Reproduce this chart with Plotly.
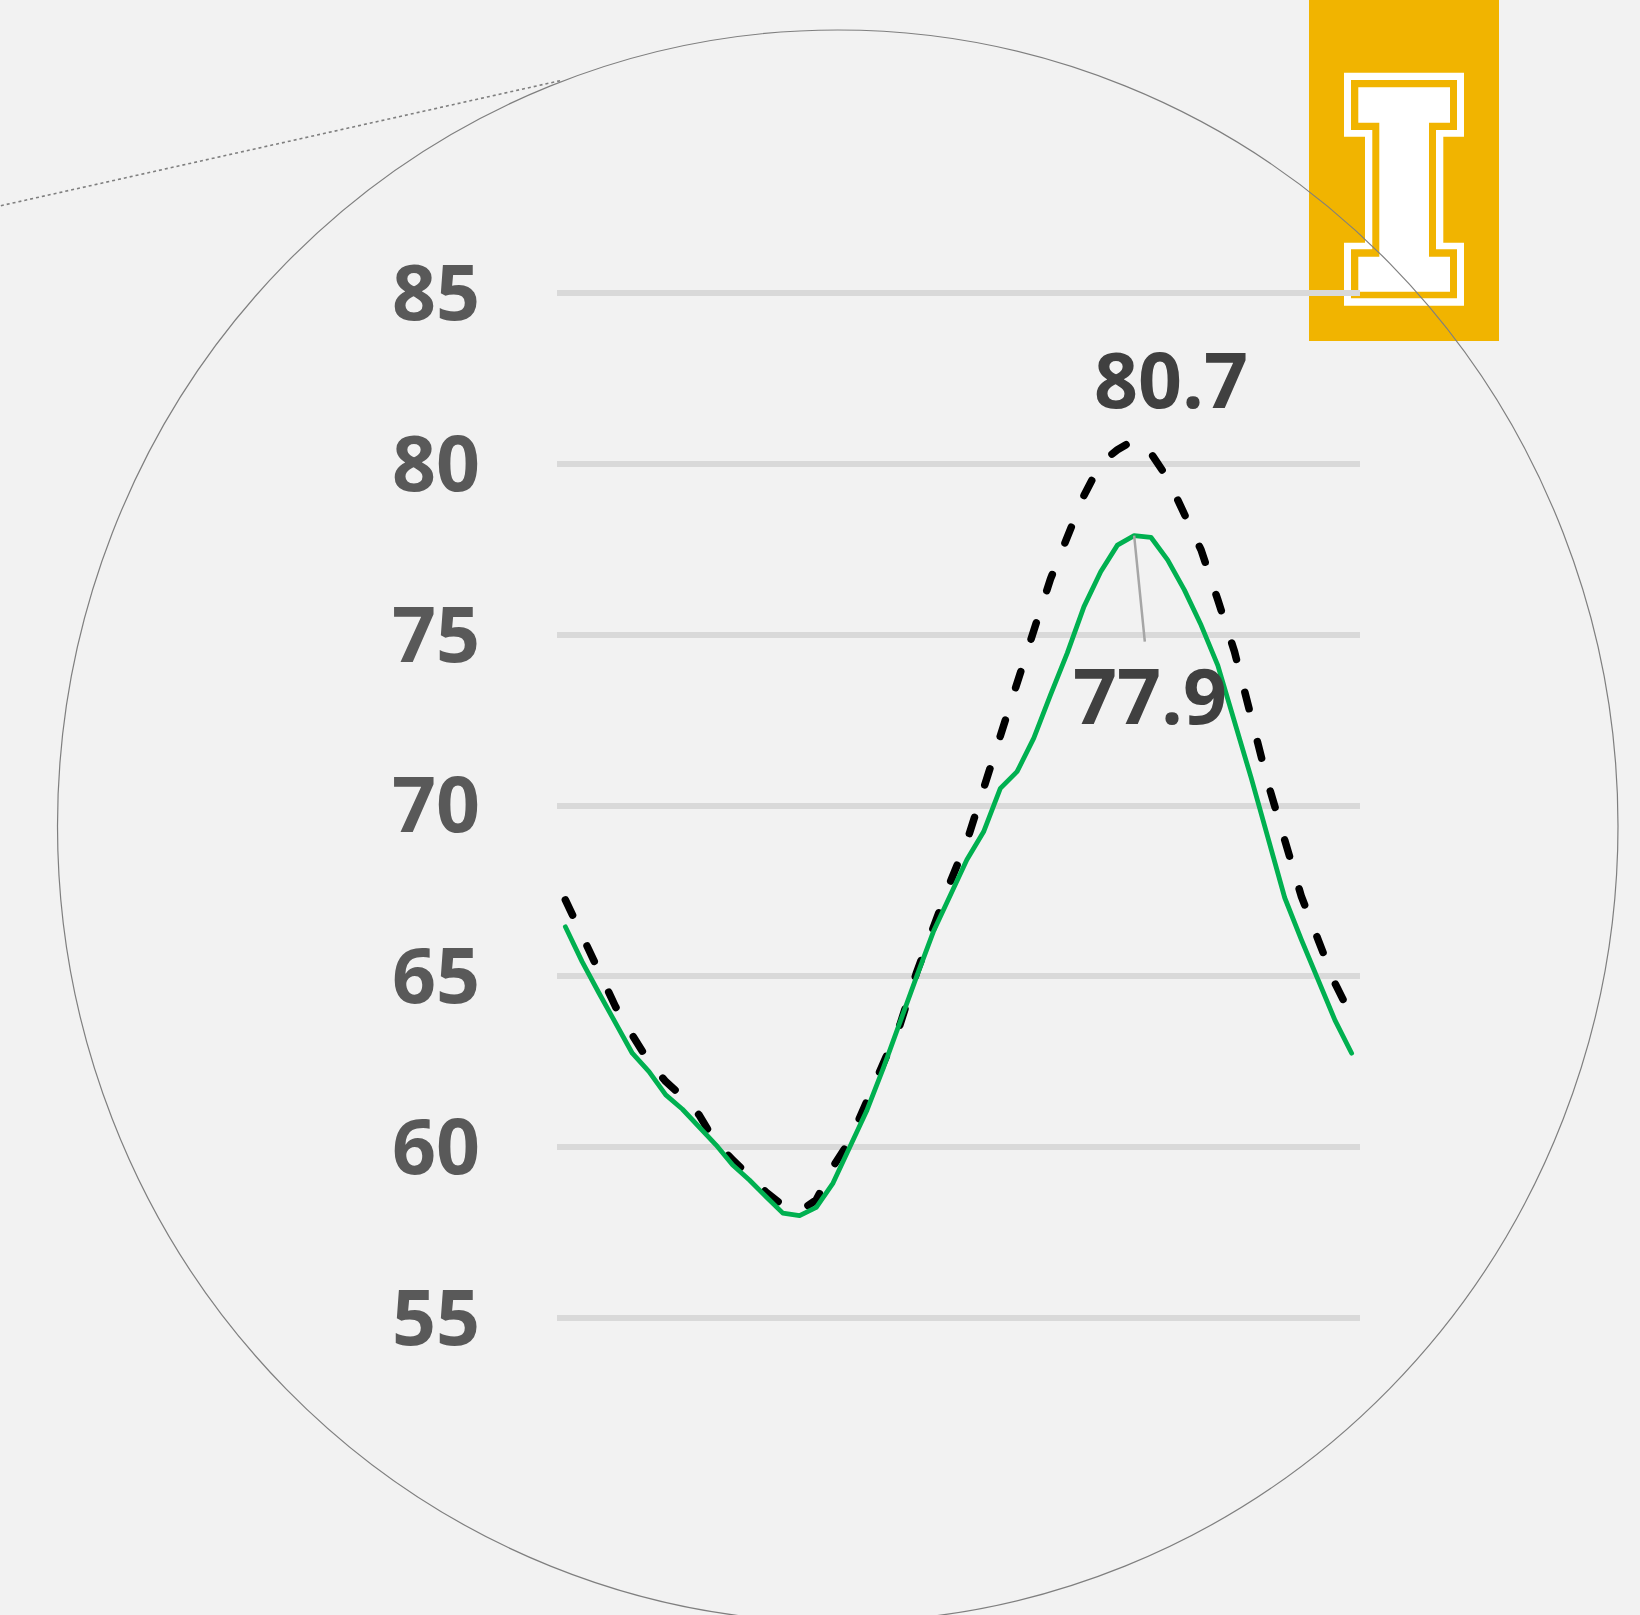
import plotly.graph_objects as go

W, H = 1640, 1615

# ---------------- data ----------------
periods = list(range(48))
series_green = [66.45, 65.43, 64.52, 63.63, 62.75, 62.21, 61.53, 61.11, 60.60, 60.07,
                59.48, 59.04, 58.55, 58.07, 58.00, 58.24, 58.95, 60.00, 61.05, 62.31,
                63.61, 65.00, 66.31, 67.33, 68.41, 69.23, 70.50, 70.99, 71.97, 73.24,
                74.46, 75.82, 76.84, 77.62, 77.90, 77.85, 77.19, 76.31, 75.28, 74.10,
                72.50, 70.80, 69.05, 67.30, 66.07, 64.86, 63.72, 62.75]
series_dashed = [67.24, 66.21, 65.11, 64.11, 63.28, 62.50, 61.92, 61.48, 60.94, 60.12,
                 59.63, 59.16, 58.68, 58.30, 58.12, 58.46, 59.43, 60.19, 61.36, 62.39,
                 63.58, 65.12, 66.45, 67.75, 68.95, 70.45, 72.06, 73.53, 75.12, 76.63,
                 77.92, 79.07, 80.02, 80.41, 80.70, 80.31, 79.58, 78.55, 77.48, 76.02,
                 74.50, 72.58, 70.65, 68.99, 67.33, 66.07, 64.80, 63.82]
y_ticks = [55, 60, 65, 70, 75, 80, 85]
y_tick_labels = ["55", "60", "65", "70", "75", "80", "85"]
label_dashed = "80.7"
label_green = "77.9"


def px(x):
    return x / W


def py(y):
    return 1 - y / H


fig = go.Figure()
fig.add_trace(go.Scatter(x=periods, y=series_dashed, mode="lines",
                         line=dict(color="#000000", width=7.5, dash="17px,34px"),
                         hoverinfo="skip"))
fig.add_trace(go.Scatter(x=periods, y=series_green, mode="lines",
                         line=dict(color="#00B050", width=4.8),
                         hoverinfo="skip"))

i_peak_d = series_dashed.index(max(series_dashed))
i_peak_g = series_green.index(max(series_green))

annotations = [
    dict(x=periods[i_peak_d], y=series_dashed[i_peak_d], xref="x", yref="y",
         text=label_dashed, showarrow=False, xshift=37, yshift=61,
         font=dict(family="Open Sans", size=77, color="#404040", weight="bold")),
    dict(x=periods[i_peak_g], y=series_green[i_peak_g], xref="x", yref="y",
         text=label_green, showarrow=True, arrowhead=0, arrowwidth=2.5,
         arrowcolor="#A6A6A6", ax=16, ay=159, standoff=0, borderpad=0,
         font=dict(family="Open Sans", size=77, color="#404040", weight="bold")),
]


def i_shape(x0, x1, sx0, sx1, y0, tb, bt, y1):
    pts = [(x0, y0), (x1, y0), (x1, tb), (sx1, tb), (sx1, bt), (x1, bt), (x1, y1),
           (x0, y1), (x0, bt), (sx0, bt), (sx0, tb), (x0, tb)]
    return "M " + " L ".join(f"{px(a):.5f},{py(b):.5f}" for a, b in pts) + " Z"


gold = "#F1B400"
shapes = [
    dict(type="rect", xref="paper", yref="paper", x0=px(1309), x1=px(1499),
         y0=py(341), y1=py(0), fillcolor=gold, line=dict(width=0), layer="below"),
    dict(type="path", xref="paper", yref="paper",
         path=i_shape(1344, 1464, 1365, 1443.3, 72.7, 136.7, 242.7, 305.7),
         fillcolor="#FFFFFF", line=dict(width=0), layer="below"),
    dict(type="path", xref="paper", yref="paper",
         path=i_shape(1351, 1457, 1372.3, 1436, 80, 130, 249.3, 298.3),
         fillcolor=gold, line=dict(width=0), layer="below"),
    dict(type="path", xref="paper", yref="paper",
         path=i_shape(1358.3, 1450, 1379.3, 1429, 87.3, 122.7, 256.7, 291.7),
         fillcolor="#FFFFFF", line=dict(width=0), layer="below"),
    # magnifier circle
    dict(type="circle", xref="paper", yref="paper", x0=px(57.5), x1=px(1618),
         y0=py(1622), y1=py(30), line=dict(color="#7F7F7F", width=1.2),
         fillcolor="rgba(0,0,0,0)", layer="above"),
    # dotted leader
    dict(type="line", xref="paper", yref="paper", x0=px(-5), y0=py(207),
         x1=px(561), y1=py(80.5), line=dict(color="#7F7F7F", width=1.6, dash="dot"),
         layer="above"),
]

fig.update_layout(
    width=W, height=H, autosize=False,
    margin=dict(l=0, r=0, t=0, b=0, pad=0),
    paper_bgcolor="#F2F2F2", plot_bgcolor="#F2F2F2",
    showlegend=False,
    xaxis=dict(domain=[px(557), px(1360)], range=[-0.5, 47.5], showgrid=False,
               zeroline=False, showticklabels=False, ticks="", showline=False,
               fixedrange=True),
    yaxis=dict(domain=[py(1352.2), py(258.8)], range=[54, 86], tickmode="array",
               tickvals=y_ticks, ticktext=y_tick_labels, showgrid=True,
               gridcolor="#D9D9D9", gridwidth=6, zeroline=False, showline=False,
               ticks="", automargin=False, ticklabelstandoff=76,
               tickfont=dict(family="Open Sans", size=77, color="#595959", weight="bold"),
               fixedrange=True),
    annotations=annotations,
    shapes=shapes,
)

fig.write_html("out.html", config={"displayModeBar": False})

# page styling: no default body margin; round caps/joins on the data lines
css = ("<style>html,body{margin:0;padding:0;overflow:hidden;background:#F2F2F2}"
       ".scatterlayer .js-line{stroke-linecap:round;stroke-linejoin:round}</style>")
with open("out.html", "r", encoding="utf-8") as f:
    html = f.read()
html = html.replace("<head>", "<head>" + css, 1)
with open("out.html", "w", encoding="utf-8") as f:
    f.write(html)
